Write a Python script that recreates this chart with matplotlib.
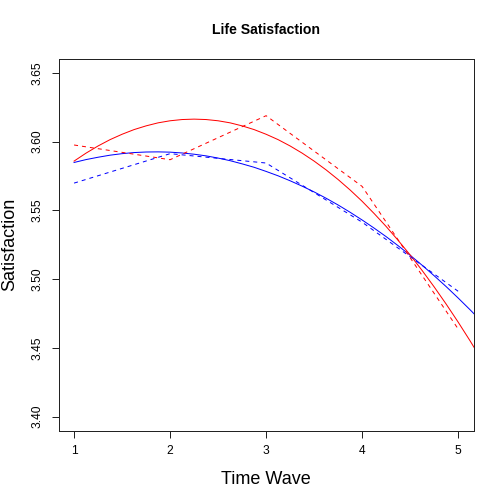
import matplotlib
matplotlib.use("Agg")
import matplotlib.pyplot as plt

plt.rcParams["font.family"] = ["Liberation Sans", "DejaVu Sans"]

# -- data --
waves = [1, 2, 3, 4, 5]
blue_obs = [3.5698, 3.5912, 3.5844, 3.5414, 3.4912]
red_obs = [3.5975, 3.5868, 3.6188, 3.5674, 3.4638]

# fitted curves, every 0.125 wave
fit_x = [1.0, 1.125, 1.25, 1.375, 1.5, 1.625, 1.75, 1.875, 2.0, 2.125, 2.25, 2.375,
         2.5, 2.625, 2.75, 2.875, 3.0, 3.125, 3.25, 3.375, 3.5, 3.625, 3.75, 3.875,
         4.0, 4.125, 4.25, 4.375, 4.5, 4.625, 4.75, 4.875, 5.0, 5.125, 5.25]
blue_fit = [3.5848, 3.5869, 3.5886, 3.5901, 3.5912, 3.5920, 3.5924, 3.5925, 3.5923,
            3.5917, 3.5908, 3.5896, 3.5880, 3.5861, 3.5838, 3.5813, 3.5783, 3.5751,
            3.5715, 3.5676, 3.5634, 3.5588, 3.5539, 3.5486, 3.5430, 3.5371, 3.5309,
            3.5243, 3.5174, 3.5101, 3.5025, 3.4946, 3.4863, 3.4777, 3.4688]
red_fit = [3.5858, 3.5916, 3.5968, 3.6014, 3.6053, 3.6087, 3.6114, 3.6136, 3.6151,
           3.6160, 3.6163, 3.6160, 3.6151, 3.6136, 3.6114, 3.6087, 3.6053, 3.6014,
           3.5968, 3.5916, 3.5858, 3.5794, 3.5724, 3.5648, 3.5566, 3.5477, 3.5383,
           3.5282, 3.5176, 3.5063, 3.4944, 3.4819, 3.4688, 3.4551, 3.4408]

x_ticks = [1, 2, 3, 4, 5]
y_ticks = [3.40, 3.45, 3.50, 3.55, 3.60, 3.65]

W = 504.0
fig = plt.figure(figsize=(7, 7), dpi=72)
ax = fig.add_axes([58.7 / W, 1 - 430.5 / W, (473.5 - 58.7) / W, (430.5 - 59) / W])

ax.plot(fit_x, blue_fit, color="#0000FF", lw=1)
ax.plot(fit_x, red_fit, color="#FF0000", lw=1)
ax.plot(waves, blue_obs, color="#0000FF", lw=1, dashes=(4, 4))
ax.plot(waves, red_obs, color="#FF0000", lw=1, dashes=(4, 4))

ax.set_xlim(0.84, 5.16)
ax.set_ylim(3.39, 3.66)
ax.set_xticks(x_ticks)
ax.set_xticklabels([str(v) for v in x_ticks])
ax.set_yticks(y_ticks)
ax.set_yticklabels([f"{v:.2f}" for v in y_ticks], rotation=90, va="center")
ax.tick_params(direction="out", length=7, width=1, labelsize=12, pad=8, color="#222222")
for s in ax.spines.values():
    s.set_linewidth(1)
    s.set_color("#222222")

fig.text(266 / W, 1 - 30 / W, "Life Satisfaction", ha="center", va="center",
         fontsize=14, fontweight="bold")
fig.text(266 / W, 1 - 480 / W, "Time Wave", ha="center", va="center", fontsize=18)
fig.text(10 / W, 1 - 244 / W, "Satisfaction", ha="center", va="center",
         fontsize=18, rotation=90)

fig.savefig("out.png", dpi=72)
plt.close(fig)
